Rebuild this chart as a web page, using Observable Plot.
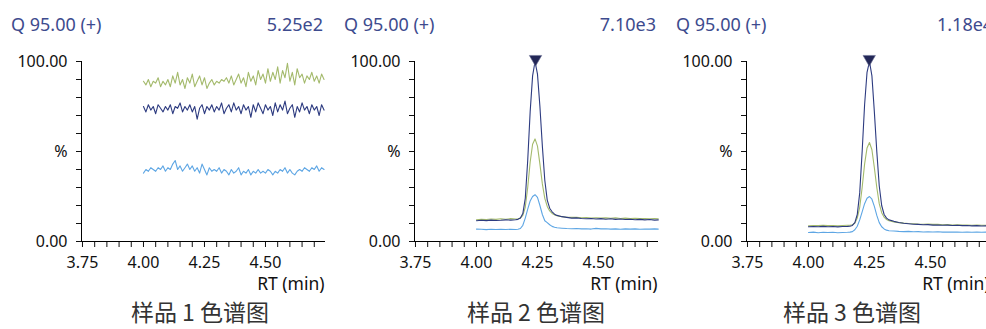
<!DOCTYPE html>
<html><head><meta charset="utf-8">
<script src="https://cdn.jsdelivr.net/npm/d3@7"></script>
<script src="https://cdn.jsdelivr.net/npm/@observablehq/plot@0.6"></script>
<style>
body{margin:0;background:#fff;}
#wrap{position:relative;width:986px;height:329px;overflow:hidden;background:#fff;font-family:'Noto Sans','Open Sans',sans-serif;}
.panel{position:absolute;top:0;width:332px;height:300px;}
.hdr{position:absolute;top:12px;font-size:18px;color:#3d4b8e;line-height:24px;white-space:nowrap;}
.cap{position:absolute;top:300px;font-size:23px;color:#333;font-family:'Noto Sans CJK SC','Noto Sans',sans-serif;line-height:23px;transform:translateX(-50%);white-space:nowrap;}
</style></head>
<body><div id="wrap"></div>
<script>
// ---------- data ----------
const titles = ["Q 95.00 (+)", "Q 95.00 (+)", "Q 95.00 (+)"];
const scaleLabels = ["5.25e2", "7.10e3", "1.18e4"];
const captions = ["样品 1 色谱图", "样品 2 色谱图", "样品 3 色谱图"];
const xTickLabels = [3.75, 4.00, 4.25, 4.50];
const xMinorTicks = [3.75,3.80,3.85,3.90,3.95,4.00,4.05,4.10,4.15,4.20,4.25,4.30,4.35,4.40,4.45,4.50,4.55,4.60,4.65,4.70];
const yTicks = [0,10,20,30,40,50,60,70,80,90,100];
const yTickLabels = {0: "0.00", 50: "%", 100: "100.00"};
const seriesNames = ["light", "green", "dark"];

// sample 1: retention times (min)
const rt1 = [4.00,4.01,4.02,4.03,4.04,4.05,4.06,4.07,4.08,4.09,
  4.10,4.11,4.12,4.13,4.14,4.15,4.16,4.17,4.18,4.19,
  4.20,4.21,4.22,4.23,4.24,4.25,4.26,4.27,4.28,4.29,
  4.30,4.31,4.32,4.33,4.34,4.35,4.36,4.37,4.38,4.39,
  4.40,4.41,4.42,4.43,4.44,4.45,4.46,4.47,4.48,4.49,
  4.50,4.51,4.52,4.53,4.54,4.55,4.56,4.57,4.58,4.59,
  4.60,4.61,4.62,4.63,4.64,4.65,4.66,4.67,4.68,4.69,
  4.70,4.71,4.72,4.73,4.74];
const s1Green = [89,87,90,86,89,88,91,86,89,87, 90,86,92,88,94,87,90,85,91,88,
  93,86,89,92,87,91,85,88,90,87, 89,88,90,89,91,88,92,87,90,93,
  88,91,86,94,89,92,87,95,90,93, 88,96,89,94,90,97,88,95,91,99,
  89,94,87,96,91,93,88,92,90,94, 89,92,88,93,90];
const s1Dark = [75,72,76,73,75,71,76,74,72,75, 73,76,71,75,74,77,72,75,73,76,
  72,75,68,74,76,71,75,73,76,72, 75,73,77,71,74,76,72,77,73,75,
  71,76,73,75,69,76,72,77,74,71, 76,73,75,70,77,72,76,73,78,71,
  74,76,69,75,72,77,73,75,71,76, 73,75,70,76,73];
const s1Light = [38,40,39,41,40,39,41,40,42,39, 41,40,43,45,40,42,39,41,43,40,
  42,39,41,38,43,40,37,41,39,40, 39,41,38,40,39,37,40,38,39,41,
  37,39,38,40,37,39,38,40,38,39, 38,40,39,37,39,38,40,39,41,38,
  40,38,37,39,40,39,41,40,39,41, 40,42,39,41,40];

// samples 2 and 3: retention times (min)
const rtP = [4.00,4.02,4.04,4.06,4.08,4.10,4.12,4.14,4.16,
  4.17,4.18,4.19,4.20,4.21,4.22,4.23,4.24,4.25,4.26,4.27,4.28,4.29,4.30,4.31,4.32,4.33,
  4.35,4.37,4.39,4.41,4.43,4.45,4.47,4.49,4.51,4.53,4.55,4.57,4.59,4.61,4.63,4.65,4.67,4.69,4.71,4.73,4.745];
const s2Dark = [11.5,11.8,11.6,11.9,11.7,11.8,12.0,11.9,12.1,
  12.3,13.0,15.5,24,45,72,92,100,93,75,53,34,23,18.5,16.5,15.2,14.5,
  13.8,13.4,13.0,13.1,12.8,12.6,12.8,12.5,12.7,12.4,12.6,12.3,12.5,12.2,12.4,12.1,12.3,12.0,12.2,11.9,12.0];
const s2Green = [12.0,12.4,12.2,12.5,12.3,12.6,12.4,12.7,12.5,
  12.6,13.0,14.5,19,30,44,54,57,53,43,32,24,19.5,17,15.6,14.8,14.3,
  13.8,13.5,13.4,13.5,13.2,13.3,13.0,13.2,13.0,13.1,12.9,13.1,12.8,13.0,12.8,12.9,12.7,12.8,12.6,12.7,12.6];
const s2Light = [6.9,6.8,6.6,6.8,6.7,6.8,6.7,6.8,6.7,
  6.8,7.2,9,13,18,22.5,25,26,24.5,20,15,11.5,10.5,9.3,8.4,7.9,7.6,
  7.4,7.2,7.1,7.2,7.0,7.1,6.9,7.3,7.0,7.1,6.9,7.0,6.8,7.0,6.9,7.0,6.8,6.9,6.9,7.0,6.9];
const s3Dark = [8.2,8.3,8.2,8.4,8.2,8.3,8.1,8.3,8.4,
  8.5,8.9,10.5,15,27,50,76,94,100,92,72,50,31,20,15,13,12,
  11.2,10.6,10.1,9.9,9.6,9.5,9.3,9.4,9.1,9.2,9.0,9.1,8.9,9.0,8.8,8.9,8.7,8.8,8.6,8.7,8.6];
const s3Green = [8.7,8.9,8.8,9.0,8.8,8.9,8.7,8.9,9.0,
  9.0,9.3,10.2,13,19,30,43,52,55,51,41,30,21,16,13.5,12.2,11.5,
  10.9,10.5,10.2,10.0,9.9,9.7,9.6,9.7,9.5,9.5,9.3,9.4,9.2,9.3,9.1,9.2,9.0,9.1,9.0,9.0,8.9];
const s3Light = [5.0,5.2,4.9,5.1,5.0,5.1,4.9,5.0,5.1,
  5.2,5.5,6.5,8.5,12,16.5,21,24,25,23.5,19.5,14.5,10.5,8.2,7.0,6.3,6.0,
  5.8,5.6,5.5,5.6,5.4,5.5,5.3,5.4,5.3,5.4,5.2,5.3,5.2,5.3,5.1,5.2,5.1,5.2,5.1,5.2,5.1];
const peakRT = [null, 4.242, 4.249];

// ---------- styling ----------
const colors = {light: "#5ea6e4", green: "#a4ba6c", dark: "#2d3b80"};
const panelLeft = [0, 333, 665];
const captionCenter = [200, 536, 852];
const xDomain = [3.746, 4.746];

const sets = [
  {rt: rt1, light: s1Light, green: s1Green, dark: s1Dark},
  {rt: rtP, light: s2Light, green: s2Green, dark: s2Dark},
  {rt: rtP, light: s3Light, green: s3Green, dark: s3Dark}
];

const wrap = document.getElementById("wrap");
const font = "'Noto Sans','Open Sans',sans-serif";

sets.forEach((s, i) => {
  const rows = [];
  seriesNames.forEach(name => s.rt.forEach((t, k) => rows.push({rt: t, v: s[name][k], series: name})));
  const marks = [
    Plot.axisX({ticks: xMinorTicks, tickSize: 6, tickPadding: 9, label: null,
      tickFormat: d => xTickLabels.some(t => Math.abs(t - d) < 1e-6) ? d.toFixed(2) : ""}),
    Plot.axisY({ticks: yTicks, tickSize: 5, tickPadding: 9, label: null,
      tickFormat: d => yTickLabels[d] ?? ""}),
    Plot.ruleY([0], {stroke: "#000"}),
    Plot.ruleX([xDomain[0]], {y1: 0, y2: 100, stroke: "#000"}),
    Plot.lineY(rows, {x: "rt", y: "v", z: "series", stroke: d => colors[d.series], strokeWidth: 1.1}),
    Plot.text(["RT (min)"], {frameAnchor: "bottom-right", textAnchor: "end", lineAnchor: "top", dy: 36, dx: -1, fontSize: 17.5, fill: "#111"})
  ];
  if (peakRT[i] != null) {
    marks.push(Plot.dot([{rt: peakRT[i], v: 100}], {x: "rt", y: "v", symbol: "triangle", r: 4.6, rotate: 180, fill: "#232757", stroke: "#6b7096", strokeWidth: 0.6, dy: -2.5}));
  }
  const chart = Plot.plot({
    width: 332, height: 300,
    marginLeft: 81, marginRight: 7, marginTop: 61, marginBottom: 59,
    x: {domain: xDomain},
    y: {domain: [0, 100]},
    style: {fontFamily: font, fontSize: "16px", color: "#111", background: "transparent", overflow: "visible"},
    marks
  });
  const panel = document.createElement("div");
  panel.className = "panel";
  panel.style.left = panelLeft[i] + "px";
  panel.appendChild(chart);
  const h1 = document.createElement("div");
  h1.className = "hdr"; h1.style.left = "11px"; h1.textContent = titles[i];
  const h2 = document.createElement("div");
  h2.className = "hdr"; h2.style.right = "9px"; h2.textContent = scaleLabels[i];
  if (i === 2) { h2.style.right = "auto"; h2.style.left = (937 - 665) + "px"; }
  panel.appendChild(h1); panel.appendChild(h2);
  wrap.appendChild(panel);
  const cap = document.createElement("div");
  cap.className = "cap"; cap.style.left = captionCenter[i] + "px"; cap.textContent = captions[i];
  wrap.appendChild(cap);
});
</script>
</body></html>
